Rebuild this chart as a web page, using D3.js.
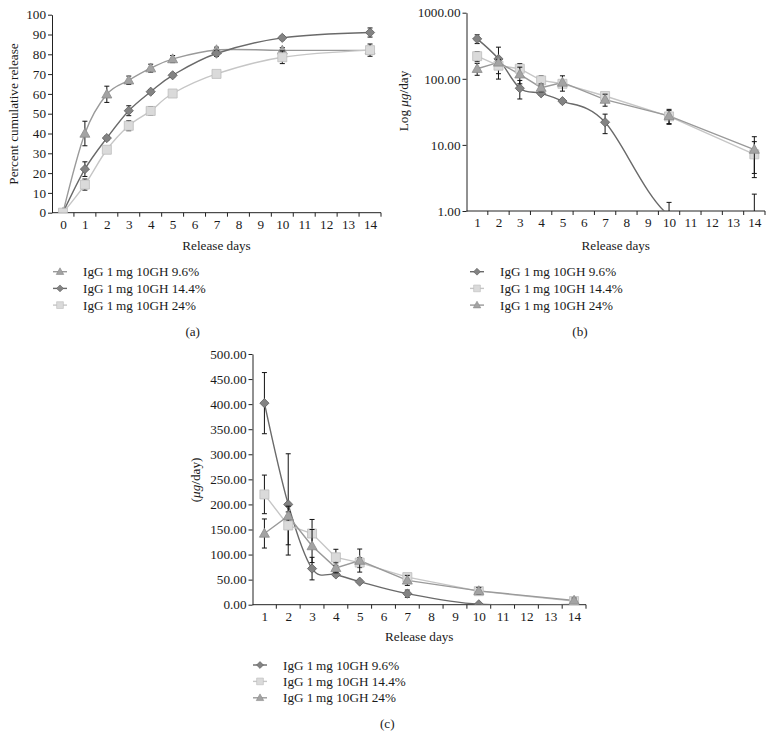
<!DOCTYPE html>
<html>
<head>
<meta charset="utf-8">
<script src="https://cdn.jsdelivr.net/npm/d3@7"></script>
<style>
  html, body { margin: 0; padding: 0; background: #fff; }
  svg { display: block; font-family: "Liberation Serif", "Times New Roman", serif; }
  svg text { font-family: "Liberation Serif", "Times New Roman", serif; fill: #1a1a1a; }
</style>
</head>
<body>
<svg id="chart" width="774" height="749"></svg>
<script>
// ---------------- DATA ----------------
// Panel (a): percent cumulative release
const categoriesA = [0,1,2,3,4,5,6,7,8,9,10,11,12,13,14];
const daysA = [0,1,2,3,4,5,7,10,14];
const cum96 = [0,40,59.8,66.9,73,77.6,82.2,82,82];
const cum96Err = [0,6.2,4.1,2.1,2,1.8,1.4,1.4,1.4];
const cum144 = [0,22,37.7,51.5,61.1,69.4,80.4,88.3,91];
const cum144Err = [0,3.7,1,2.5,1,1,1.5,1,2.3];
const cum24 = [0,14.2,31.8,43.9,51.4,60.2,70.1,78.5,82.1];
const cum24Err = [0,2.8,1.4,2.5,2.2,1.2,0.8,3.2,3.1];
const yTicksA = [0,10,20,30,40,50,60,70,80,90,100];

// Panels (b) and (c): daily release (µg/day)
const categoriesB = [1,2,3,4,5,6,7,8,9,10,11,12,13,14];
const daysB = [1,2,3,4,5,7,10,14];
const rate96 = [402,200,72,60.3,46,22,0.85,0.3];
const rate96Err = [61,101,22.5,4,3,7.2,0.5,1.5];
const rate144 = [220,158,142,94.5,84,55,27,7.2];
const rate144Err = [38.5,38.5,28,16,10,5,6,4];
const rate24 = [142,177,117,73.5,88,48.5,27.5,8.5];
const rate24Err = [29,8,33,10,23,10,7,4.8];
const yTicksB = [1,10,100,1000];
const yTicksC = [0,50,100,150,200,250,300,350,400,450,500];

const labelsA = ["IgG 1\u2009mg 10GH 9.6%","IgG 1\u2009mg 10GH 14.4%","IgG 1\u2009mg 10GH 24%"];

// ---------------- STYLES ----------------
const ST = {
  tri: {fill:"#a3a3a3", stroke:"#8a8a8a", line:"#9a9a9a"},
  dia: {fill:"#838383", stroke:"#5e5e5e", line:"#6a6a6a"},
  sq:  {fill:"#dadada", stroke:"#bcbcbc", line:"#c6c6c6"}
};

const svg = d3.select("#chart");
const FS = 13.2;
const FF = "Liberation Serif, Times New Roman, serif";

function markerPath(kind) {
  if (kind === "dia") return "M0,-4.6L4.6,0L0,4.6L-4.6,0Z";
  if (kind === "sq") return "M-4.5,-4.5H4.5V4.5H-4.5Z";
  return "M0,-5.2L5,3.7H-5Z";
}

function drawPanel(cfg) {
  const g = svg.append("g");
  const x = d3.scalePoint().domain(cfg.categories).range([cfg.x0, cfg.x1]).padding(0.5);
  const step = x.step();
  const y = cfg.y;
  const yBottom = y.range()[0], yTop = y.range()[1];

  const cid = "clip" + cfg.id;
  svg.append("clipPath").attr("id", cid).append("rect")
    .attr("x", cfg.x0).attr("y", yTop - 10).attr("width", cfg.x1 - cfg.x0 + 10).attr("height", yBottom - yTop + 10);

  // y axis
  const yAxis = d3.axisLeft(y).tickValues(cfg.yTicks).tickSize(4).tickSizeOuter(0).tickFormat(cfg.yFmt);
  const ga = g.append("g").attr("transform", `translate(${cfg.x0},0)`).call(yAxis)
    .attr("font-family", FF).attr("font-size", FS);
  ga.select(".domain").attr("stroke", "#222");
  ga.selectAll(".tick line").attr("stroke", "#222");
  ga.selectAll(".tick text").attr("fill", "#1a1a1a").attr("x", -6);

  // x axis: labels at centres, tick marks at band boundaries
  const xAxis = d3.axisBottom(x).tickSize(0).tickSizeOuter(0);
  const gx = g.append("g").attr("transform", `translate(0,${yBottom})`).call(xAxis)
    .attr("font-family", FF).attr("font-size", FS);
  gx.select(".domain").attr("stroke", "#222").attr("d", `M${cfg.x0},0H${cfg.x1}`);
  gx.selectAll(".tick text").attr("fill", "#1a1a1a").attr("y", 7);
  const bounds = cfg.categories.map(c => x(c) + step / 2);
  gx.selectAll("line.bt").data(bounds).enter().append("line").attr("class", "bt")
    .attr("x1", d => d).attr("x2", d => d).attr("y1", 0).attr("y2", 4).attr("stroke", "#222");

  // titles
  g.append("text").attr("x", (cfg.x0 + cfg.x1) / 2).attr("y", cfg.xTitleY)
    .attr("text-anchor", "middle").attr("font-size", FS).text("Release days");
  const yt = g.append("text").attr("transform", `translate(${cfg.yTitleX},${cfg.yTitleY}) rotate(-90)`)
    .attr("text-anchor", "middle").attr("font-size", FS);
  cfg.yTitle(yt);

  // series
  const plot = g.append("g").attr("clip-path", `url(#${cid})`);
  cfg.series.forEach(s => {
    const pts = cfg.days.map((d, i) => ({d, v: s.values[i], e: s.err[i]}));
    const line = d3.line().x(p => x(p.d)).y(p => y(cfg.safe(p.v)))
      .curve(s.smooth ? d3.curveCatmullRom.alpha(0) : d3.curveLinear);
    plot.append("path").attr("d", line(pts)).attr("fill", "none")
      .attr("stroke", ST[s.kind].line).attr("stroke-width", 1.4);
    s._pts = pts;
  });
  cfg.series.forEach(s => {
    const st = ST[s.kind];
    s._pts.forEach(p => {
      if (!p.e) return;
      const top = y(p.v + p.e);
      const bot = y(cfg.safe(p.v - p.e));
      const cx = x(p.d);
      plot.append("path").attr("d", `M${cx},${top}V${bot}M${cx-2.5},${top}H${cx+2.5}M${cx-2.5},${bot}H${cx+2.5}`)
        .attr("stroke", "#111").attr("stroke-width", 1).attr("fill", "none");
    });
    s._pts.forEach(p => {
      plot.append("path").attr("d", markerPath(s.kind))
        .attr("transform", `translate(${x(p.d)},${y(cfg.safe(p.v))})`)
        .attr("fill", st.fill).attr("stroke", st.stroke).attr("stroke-width", 0.8);
    });
  });

  // legend
  cfg.legend.forEach((l, i) => {
    const ly = cfg.legY + i * cfg.legStep;
    const st = ST[l.kind];
    g.append("line").attr("x1", cfg.legX - 7).attr("x2", cfg.legX + 7).attr("y1", ly).attr("y2", ly)
      .attr("stroke", st.line).attr("stroke-width", 1.4);
    g.append("path").attr("d", markerPath(l.kind)).attr("transform", `translate(${cfg.legX},${ly}) scale(0.75)`)
      .attr("fill", st.fill).attr("stroke", st.stroke).attr("stroke-width", 0.8);
    g.append("text").attr("x", cfg.legX + 23).attr("y", ly).attr("dy", "0.35em")
      .attr("font-size", FS).text(l.label);
  });
  g.append("text").attr("x", cfg.tagX).attr("y", cfg.tagY).attr("dy", "0.35em")
    .attr("text-anchor", "middle").attr("font-size", FS).text(cfg.tag);
}

function muTitle(prefix, suffix, paren) {
  return t => {
    if (paren) t.append("tspan").text("(");
    if (prefix) t.append("tspan").text(prefix);
    t.append("tspan").attr("font-style", "italic").text("\u03bcg");
    t.append("tspan").text(suffix);
  };
}

// Panel (a)
drawPanel({
  id: "a", categories: categoriesA, days: daysA, x0: 52, x1: 381,
  y: d3.scaleLinear().domain([0, 100]).range([212.7, 14.7]),
  yTicks: yTicksA, yFmt: d3.format("d"), safe: v => v,
  xTitleY: 250, yTitleX: 18, yTitleY: 114,
  yTitle: t => t.text("Percent cumulative release"),
  series: [
    {kind: "tri", values: cum96, err: cum96Err, smooth: true},
    {kind: "dia", values: cum144, err: cum144Err, smooth: true},
    {kind: "sq", values: cum24, err: cum24Err, smooth: true}
  ],
  legend: [{kind: "tri", label: labelsA[0]}, {kind: "dia", label: labelsA[1]}, {kind: "sq", label: labelsA[2]}],
  legX: 60, legY: 271.7, legStep: 16.7, tag: "(a)", tagX: 192.7, tagY: 331
});

// Panel (b)
drawPanel({
  id: "b", categories: categoriesB, days: daysB, x0: 466.5, x1: 765,
  y: d3.scaleLog().domain([1, 1000]).range([211, 12.7]),
  yTicks: yTicksB, yFmt: d3.format(".2f"), safe: v => Math.max(v, 0.05),
  xTitleY: 250, yTitleX: 408, yTitleY: 101,
  yTitle: muTitle("Log ", "/day", false),
  series: [
    {kind: "dia", values: rate96, err: rate96Err, smooth: true},
    {kind: "sq", values: rate144, err: rate144Err, smooth: false},
    {kind: "tri", values: rate24, err: rate24Err, smooth: false}
  ],
  legend: [{kind: "dia", label: labelsA[0]}, {kind: "sq", label: labelsA[1]}, {kind: "tri", label: labelsA[2]}],
  legX: 477, legY: 271.7, legStep: 16.7, tag: "(b)", tagX: 580, tagY: 331
});

// Panel (c)
drawPanel({
  id: "c", categories: categoriesB, days: daysB, x0: 252.5, x1: 586,
  y: d3.scaleLinear().domain([0, 500]).range([604.7, 354]),
  yTicks: yTicksC, yFmt: d3.format(".2f"), safe: v => v,
  xTitleY: 641, yTitleX: 200, yTitleY: 480,
  yTitle: muTitle("", "/day)", true),
  series: [
    {kind: "dia", values: rate96, err: rate96Err, smooth: true},
    {kind: "sq", values: rate144, err: rate144Err, smooth: false},
    {kind: "tri", values: rate24, err: rate24Err, smooth: false}
  ],
  legend: [{kind: "dia", label: labelsA[0]}, {kind: "sq", label: labelsA[1]}, {kind: "tri", label: labelsA[2]}],
  legX: 260, legY: 665, legStep: 16.4, tag: "(c)", tagX: 387.3, tagY: 723.3
});
</script>
</body>
</html>
